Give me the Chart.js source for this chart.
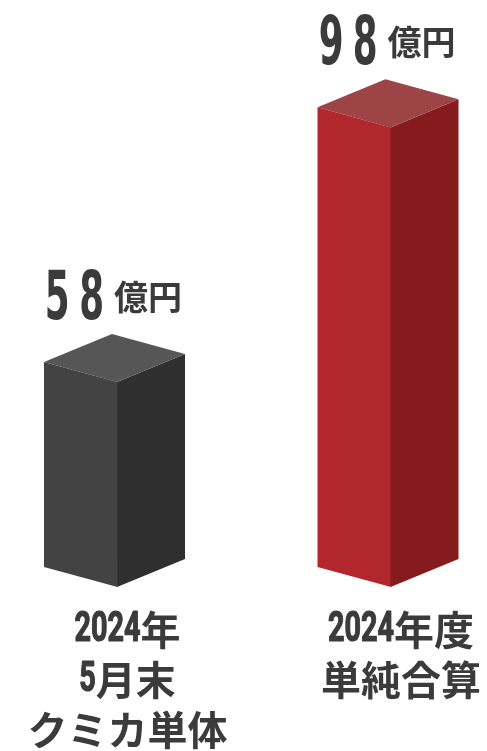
<!DOCTYPE html>
<html>
<head>
<meta charset="utf-8">
<script src="https://cdn.jsdelivr.net/npm/chart.js@4"></script>
<style>
html,body{margin:0;padding:0;background:#ffffff;}
canvas{display:block;}
</style>
</head>
<body>
<canvas id="c" width="487" height="751"></canvas>
<script>
// ---- data ----
const categories = [['2024年', '5月末', 'クミカ単体'], ['2024年度', '単純合算']];
const values = [58, 98];
const valueUnits = ['億円', '億円'];

// ---- value axis range (hidden axis) ----
const Y_MIN = 25.8;
const Y_MAX = 110;

// ---- styles ----
const frontColors = ['#434343', '#b1272c'];
const sideColors = ['#2f2f2f', '#861b1e'];
const topColors = ['#565656', '#9c4446'];
const TEXT_COLOR = '#3b3b3b';
const NARROW = "'Liberation Sans Narrow','DejaVu Sans Condensed','Noto Sans CJK JP',sans-serif";
const CJK = "'Noto Sans CJK JP','Noto Sans CJK SC',sans-serif";
const DIGITS = "Roboto,'DejaVu Sans Condensed',sans-serif";

function poly(ctx, pts) {
  ctx.beginPath();
  ctx.moveTo(pts[0][0], pts[0][1]);
  for (let i = 1; i < pts.length; i++) ctx.lineTo(pts[i][0], pts[i][1]);
  ctx.closePath();
  ctx.fill();
}

// draw a line of text mixing condensed digits and CJK glyphs, centred on cx
function drawMixed(ctx, text, cx, cy, size, digitScale) {
  const parts = text.match(/[0-9]+|[^0-9]+/g) || [];
  const segs = parts.map(s => {
    const isNum = /^[0-9]+$/.test(s);
    ctx.font = isNum ? ('bold ' + size + 'px ' + DIGITS) : ('bold ' + size + 'px ' + CJK);
    const w = ctx.measureText(s).width * (isNum ? digitScale : 1);
    return { s, isNum, w };
  });
  const total = segs.reduce((a, b) => a + b.w, 0);
  let x = cx - total / 2;
  ctx.textAlign = 'left';
  ctx.textBaseline = 'middle';
  segs.forEach(seg => {
    if (seg.isNum) {
      ctx.font = 'bold ' + size + 'px ' + DIGITS;
      ctx.save();
      ctx.translate(x, cy + 1);
      ctx.scale(digitScale, 1.04);
      ctx.fillText(seg.s, 0, 0);
      ctx.strokeStyle = TEXT_COLOR;
      ctx.lineWidth = 1.2;
      ctx.lineJoin = 'round';
      ctx.strokeText(seg.s, 0, 0);
      ctx.restore();
    } else {
      ctx.font = 'bold ' + size + 'px ' + CJK;
      ctx.fillText(seg.s, x, cy);
    }
    x += seg.w;
  });
}

const box3d = {
  id: 'box3d',
  afterDatasetsDraw(chart) {
    const ctx = chart.ctx;
    const meta = chart.getDatasetMeta(0);
    meta.data.forEach((bar, i) => {
      const p = bar.getProps(['x', 'y', 'base', 'width'], true);
      const w = p.width;
      const left = p.x - w / 2, right = p.x + w / 2;
      const mid = left + w * 0.518;
      const dl = w * 0.142;
      const dr = w * 0.199;
      const y = p.y, base = p.base;
      ctx.save();
      ctx.fillStyle = frontColors[i];
      poly(ctx, [[left, y - dl], [mid + 0.5, y], [mid + 0.5, base], [left, base - dl]]);
      ctx.fillStyle = sideColors[i];
      poly(ctx, [[mid, y], [right, y - dr], [right, base - dr], [mid, base]]);
      ctx.fillStyle = topColors[i];
      poly(ctx, [[left, y - dl], [mid, y], [right, y - dr], [left + (right - mid), y - dl - dr]]);

      // value label
      const apex = y - dl - dr;
      const digitsBottom = apex - 15;
      const digitH = 50, digitW = 21, pitch = 34, gapUnit = 12;
      const txt = String(values[i]);
      ctx.font = "bold 70px " + NARROW;
      ctx.textBaseline = 'alphabetic';
      ctx.textAlign = 'left';
      const m = ctx.measureText('8');
      const inkW = (m.actualBoundingBoxRight + m.actualBoundingBoxLeft) || 30;
      const inkH = m.actualBoundingBoxAscent || 50;
      const sx = digitW / inkW, sy = digitH / inkH;
      ctx.font = "bold 34px " + CJK;
      const unitW = ctx.measureText(valueUnits[i]).width;
      const total = pitch * (txt.length - 1) + digitW + gapUnit + unitW;
      let x0 = p.x - total / 2;
      ctx.fillStyle = TEXT_COLOR;
      ctx.font = "bold 70px " + NARROW;
      for (let k = 0; k < txt.length; k++) {
        const mk = ctx.measureText(txt[k]);
        ctx.save();
        ctx.translate(x0 + k * pitch, digitsBottom);
        ctx.scale(sx, sy);
        ctx.fillText(txt[k], mk.actualBoundingBoxLeft || 0, 0);
        ctx.restore();
      }
      ctx.font = "bold 34px " + CJK;
      ctx.textBaseline = 'middle';
      ctx.fillText(valueUnits[i], x0 + pitch * (txt.length - 1) + digitW + gapUnit, digitsBottom - 22);
      ctx.restore();
    });

    // category labels, placed at the category scale's tick positions
    const xs = chart.scales.x;
    ctx.save();
    ctx.fillStyle = TEXT_COLOR;
    xs.ticks.forEach((t, i) => {
      const lbl = xs.getLabelForValue(t.value);
      const lines = Array.isArray(lbl) ? lbl : String(lbl).split(',');
      const cx = xs.getPixelForTick(i) + 13;
      lines.forEach((line, j) => {
        drawMixed(ctx, line, cx, xs.top + 43 + j * 50, 40, 0.72);
      });
    });
    ctx.restore();
  }
};

new Chart(document.getElementById('c'), {
  type: 'bar',
  data: {
    labels: categories,
    datasets: [{
      data: values,
      base: Y_MIN,
      backgroundColor: 'rgba(0,0,0,0)',
      borderWidth: 0,
      barThickness: 141
    }]
  },
  options: {
    responsive: false,
    animation: false,
    layout: { padding: { left: 114.5, right: 99, top: 51, bottom: 0 } },
    plugins: { legend: { display: false }, tooltip: { enabled: false } },
    scales: {
      x: {
        type: 'category',
        offset: false,
        grid: { display: false, drawTicks: false },
        border: { display: false },
        ticks: { display: false, autoSkip: false },
        afterFit(scale) {
          scale.height = 164;
          scale.paddingLeft = 0;
          scale.paddingRight = 0;
        }
      },
      y: {
        display: false,
        min: Y_MIN,
        max: Y_MAX
      }
    }
  },
  plugins: [box3d]
});
</script>
</body>
</html>
